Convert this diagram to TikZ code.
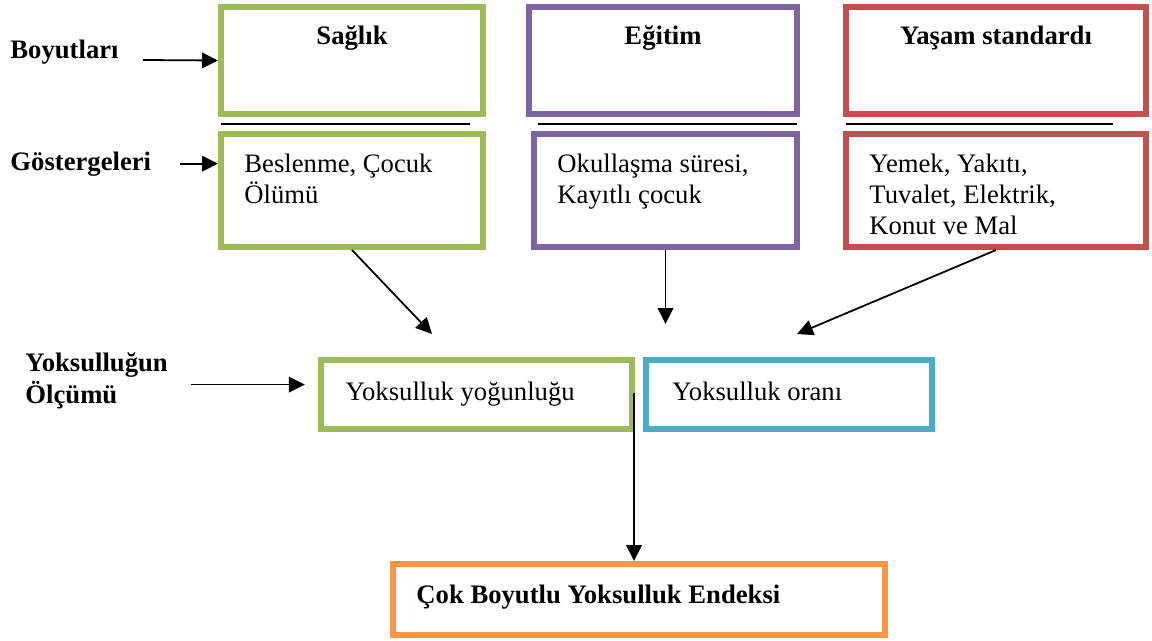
\documentclass[tikz,border=0pt]{standalone}
\usepackage{fontspec}
\setmainfont{Liberation Serif}
\usetikzlibrary{arrows.meta,positioning}
\definecolor{sagcol}{HTML}{9BBB59}
\definecolor{egicol}{HTML}{8064A2}
\definecolor{yascol}{HTML}{C0504D}
\definecolor{orancol}{HTML}{4BACC6}
\definecolor{endcol}{HTML}{F79646}
\begin{document}
\begin{tikzpicture}[x=0.45pt,y=-0.45pt,
  every node/.style={font=\fontsize{12}{13.8}\selectfont,inner sep=0pt},
  ttl/.style={font=\fontsize{12}{14.4}\selectfont\bfseries},
  txt/.style={align=left},
  box/.style={draw=#1,line width=2.7pt},
  rowA/.style={minimum height=48.15pt},
  rowB/.style={minimum height=50.85pt},
  arr/.style={-{Triangle[length=7.2pt,width=7pt]},line width=0.8pt},
  sep/.style={line width=0.9pt}]
\useasboundingbox (0,0) rectangle (1152,641);
% dimensions
\node[box=sagcol,rowA,minimum width=117.9pt] (sagA) at (352,60.5) {};
\node[box=egicol,rowA,minimum width=120.6pt] (egiA) at (663,60.5) {};
\node[box=yascol,rowA,minimum width=135pt] (yasA) at (996,60.5) {};
\node[ttl,anchor=base] (sagH) at ([yshift=-18.45pt]sagA.north) {Sağlık};
\node[ttl,anchor=base] (egiH) at ([yshift=-18.45pt]egiA.north) {Eğitim};
\node[ttl,anchor=base] (yasH) at ([yshift=-18.45pt]yasA.north) {Yaşam standardı};
\draw[sep] (221,124) -- (470,124);
\draw[sep] (538,124) -- (797,124);
\draw[sep] (846,124) -- (1113,124);
% indicators
\node[box=sagcol,rowB,minimum width=117.9pt] (sagB) at (352,190.5) {};
\node[box=egicol,rowB,minimum width=118.35pt] (egiB) at (665.5,190.5) {};
\node[box=yascol,rowB,minimum width=135pt] (yasB) at (996,190.5) {};
\node[txt,below right=10.35pt and 11.7pt of sagB.north west] (sagT) {Beslenme, Çocuk\\Ölümü};
\node[txt,below right=10.35pt and 11.7pt of egiB.north west] (egiT) {Okullaşma süresi,\\Kayıtlı çocuk};
\node[txt,below right=10.35pt and 11.7pt of yasB.north west] (yasT) {Yemek, Yakıtı,\\Tuvalet, Elektrik,\\Konut ve Mal};
% measurement
\node[box=sagcol,minimum width=139.95pt,minimum height=31.05pt] (yogun) at (476.5,394.5) {};
\node[box=orancol,minimum width=128.7pt,minimum height=31.05pt] (oran) at (789,394.5) {};
\node[anchor=base west] (yogunT) at ([shift={(12.2pt,-2.5pt)}]yogun.west) {Yoksulluk yoğunluğu};
\node[anchor=base west] (oranT) at ([shift={(13pt,-2.5pt)}]oran.west) {Yoksulluk oranı};
\node[box=endcol,minimum width=221.4pt,minimum height=31.95pt] (endeks) at (639,599.5) {};
\node[ttl,anchor=base west] (endeksT) at ([shift={(11.7pt,-1.6pt)}]endeks.west) {Çok Boyutlu Yoksulluk Endeksi};
% left labels
\node[ttl,anchor=base west] (boy) at (10,58) {Boyutları};
\node[ttl,anchor=base west] (gos) at (10,170) {Göstergeleri};
\node[ttl,txt,anchor=north west] (yok) at (25,352) {Yoksulluğun\\Ölçümü};
\draw[arr] ([shift={(10.8pt,-0.9pt)}]boy.base east) -- (sagA.west);
\draw[arr] ([xshift=13pt]gos.east) -- (gos.east -| sagB.west);
\draw[arr] ([shift={(10.4pt,-1.8pt)}]yok.east) -- ([shift={(-5.9pt,-1.8pt)}]yok.east -| yogun.west);
% flows
\coordinate (tipS) at (432,334);
\coordinate (tipE) at (665.5,324);
\coordinate (tipY) at (797,334);
\coordinate (mid) at (634,393);
\draw[arr] (sagB.south) -- (tipS);
\draw[arr] (egiB.south) -- (tipE);
\draw[arr] (yasB.south) -- (tipY);
\draw[arr] (mid) -- (mid |- endeks.north);
\end{tikzpicture}
\end{document}
